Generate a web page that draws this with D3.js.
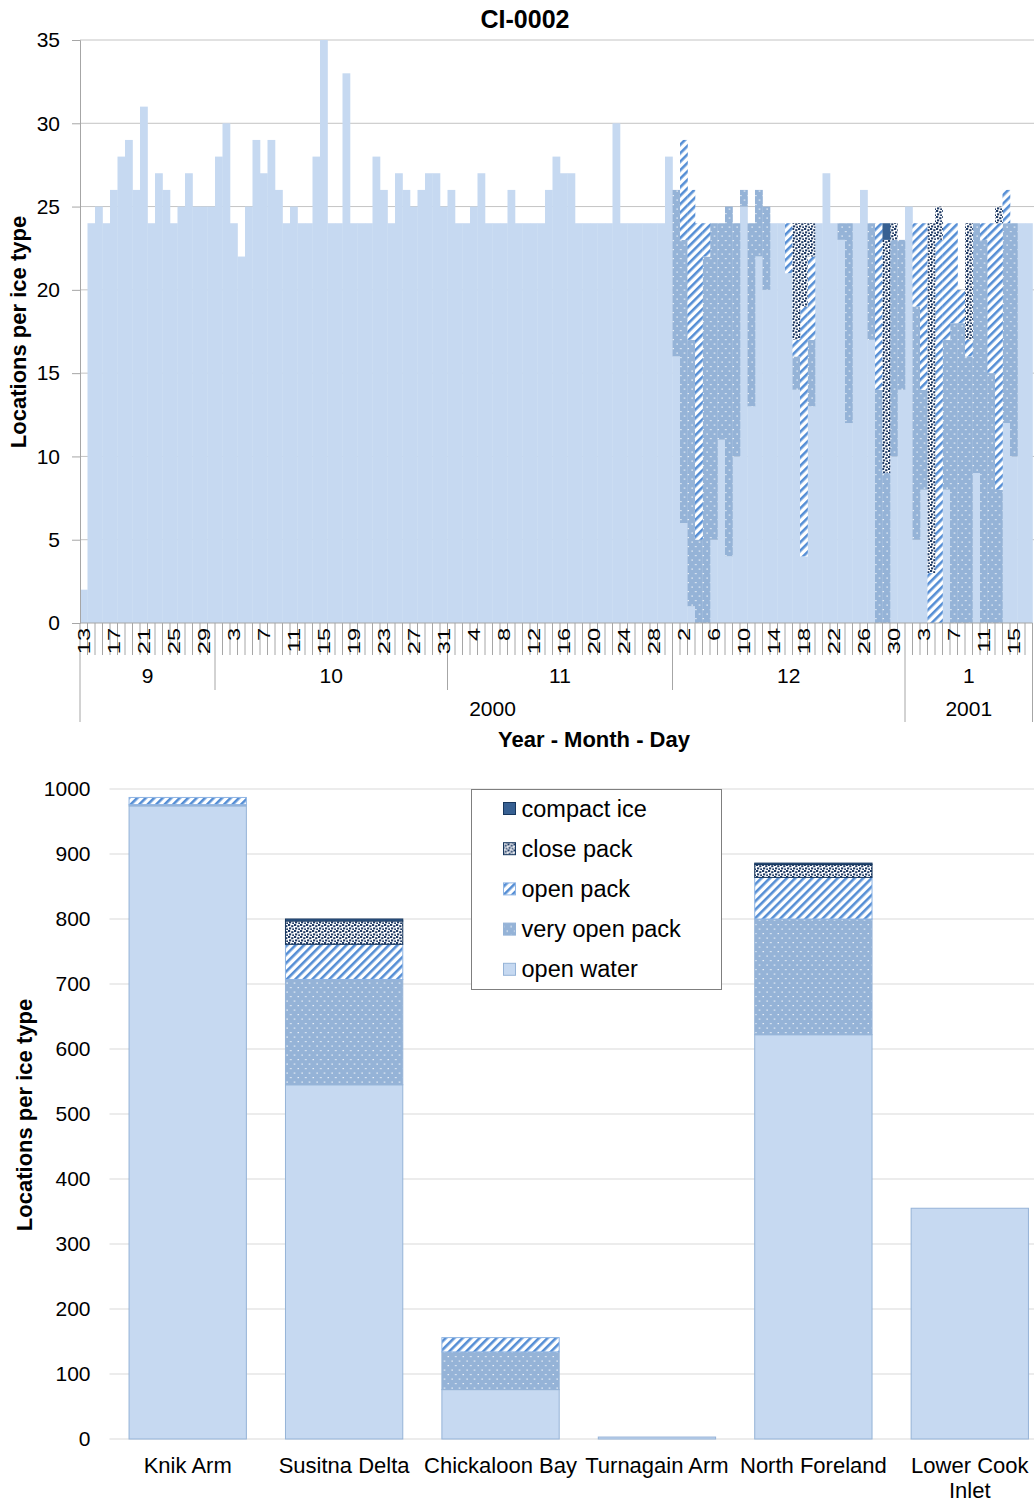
<!DOCTYPE html>
<html>
<head>
<meta charset="utf-8">
<script src="https://cdn.jsdelivr.net/npm/d3@7"></script>
<style>
  body { margin: 0; background: #fff; }
  text { font-family: "Liberation Sans", Arial, sans-serif; fill: #000; }
</style>
</head>
<body>
<svg id="chart" width="1034" height="1502"></svg>
<script>
// ---- daily chart data (Sep 13 2000 - Jan 17 2001) ----
const firstDay = new Date(2000, 8, 13);
const lastDay = new Date(2001, 0, 17);

const openWater = [
  // Sep
  2,24,25,24,26,28,29,26,31,24,27,26,24,25,27,25,25,25,
  // Oct
  28,30,24,22,25,29,27,29,26,24,25,24,24,28,35,24,24,33,24,24,24,28,26,24,27,26,25,26,27,27,25,
  // Nov
  26,24,24,25,27,24,24,24,26,24,24,24,24,26,28,27,27,24,24,24,24,24,30,24,24,24,24,24,24,28,
  // Dec
  16,6,1,0,0,5,11,4,10,25,13,22,20,24,24,21,14,4,13,24,27,24,23,12,24,26,17,0,0,10,14,
  // Jan
  25,5,8,0,0,8,0,0,0,9,0,0,0,12,10,24,24
];
const veryOpenPack = [
  0,0,0,0,0,0,0,0,0,0, 0,0,0,0,0,0,0,0,
  0,0,0,0,0,0,0,0,0,0, 0,0,0,0,0,0,0,0,0,0, 0,0,0,0,0,0,0,0,0,0, 0,
  0,0,0,0,0,0,0,0,0,0, 0,0,0,0,0,0,0,0,0,0, 0,0,0,0,0,0,0,0,0,0,
  10,17,16,5,22,19,13,21,14,1,11,4,5,0,0,0,2,0,4,0,0,0,1,12,0,0,7,14,9,13,9,
  0,14,6,0,0,9,18,18,16,15,23,15,8,12,14,0,0
];
const openPack = [
  0,0,0,0,0,0,0,0,0,0, 0,0,0,0,0,0,0,0,
  0,0,0,0,0,0,0,0,0,0, 0,0,0,0,0,0,0,0,0,0, 0,0,0,0,0,0,0,0,0,0, 0,
  0,0,0,0,0,0,0,0,0,0, 0,0,0,0,0,0,0,0,0,0, 0,0,0,0,0,0,0,0,0,0,
  0,6,9,19,2,0,0,0,0,0,0,0,0,0,0,3,1,15,5,0,0,0,0,0,0,0,0,10,0,0,0,
  0,5,10,3,23,7,6,2,1,0,1,9,16,2,0,0,0
];
const closePack = [
  0,0,0,0,0,0,0,0,0,0, 0,0,0,0,0,0,0,0,
  0,0,0,0,0,0,0,0,0,0, 0,0,0,0,0,0,0,0,0,0, 0,0,0,0,0,0,0,0,0,0, 0,
  0,0,0,0,0,0,0,0,0,0, 0,0,0,0,0,0,0,0,0,0, 0,0,0,0,0,0,0,0,0,0,
  0,0,0,0,0,0,0,0,0,0,0,0,0,0,0,0,7,5,2,0,0,0,0,0,0,0,0,0,14,1,0,
  0,0,0,21,2,0,0,0,7,0,0,0,1,0,0,0,0
];
const compactIce = [
  0,0,0,0,0,0,0,0,0,0, 0,0,0,0,0,0,0,0,
  0,0,0,0,0,0,0,0,0,0, 0,0,0,0,0,0,0,0,0,0, 0,0,0,0,0,0,0,0,0,0, 0,
  0,0,0,0,0,0,0,0,0,0, 0,0,0,0,0,0,0,0,0,0, 0,0,0,0,0,0,0,0,0,0,
  0,0,0,0,0,0,0,0,0,0,0,0,0,0,0,0,0,0,0,0,0,0,0,0,0,0,0,0,1,0,0,
  0,0,0,0,0,0,0,0,0,0,0,0,0,0,0,0,0
];
const dailyTicks = [0, 5, 10, 15, 20, 25, 30, 35];

// ---- region totals ----
const regions = ["Knik Arm", "Susitna Delta", "Chickaloon Bay", "Turnagain Arm", "North Foreland", "Lower Cook Inlet"];
const regionOpenWater = [974, 545, 76, 3, 622, 355];
const regionVeryOpenPack = [2, 162, 58, 0, 178, 0];
const regionOpenPack = [11, 54, 22, 0, 64, 0];
const regionClosePack = [0, 36, 0, 0, 20, 0];
const regionCompactIce = [0, 3, 0, 0, 2, 0];
const regionTicks = [0, 100, 200, 300, 400, 500, 600, 700, 800, 900, 1000];

const keys = ["openWater", "veryOpenPack", "openPack", "closePack", "compactIce"];
const keyLabels = {
  openWater: "open water", veryOpenPack: "very open pack", openPack: "open pack",
  closePack: "close pack", compactIce: "compact ice"
};
const fills = {
  openWater: "#c6d9f1", veryOpenPack: "url(#pVop)", openPack: "url(#pOp)",
  closePack: "url(#pCp)", compactIce: "#376092"
};
const strokes = {
  openWater: "#95b3d7", veryOpenPack: "#95b3d7", openPack: "#8eb4e3",
  closePack: "#17375e", compactIce: "#17375e"
};

const svg = d3.select("#chart");

// patterns
const defs = svg.append("defs");
const vop = defs.append("pattern").attr("id", "pVop").attr("patternUnits", "userSpaceOnUse")
  .attr("width", 7.5).attr("height", 9);
vop.append("rect").attr("width", 7.5).attr("height", 9).attr("fill", "#95b3d7");
vop.append("rect").attr("x", 1.5).attr("y", 1.5).attr("width", 1.2).attr("height", 1.2).attr("fill", "#fff");
vop.append("rect").attr("x", 5.2).attr("y", 6).attr("width", 1.2).attr("height", 1.2).attr("fill", "#fff");

const op = defs.append("pattern").attr("id", "pOp").attr("patternUnits", "userSpaceOnUse")
  .attr("width", 6).attr("height", 6).attr("patternTransform", "rotate(45)");
op.append("rect").attr("width", 6).attr("height", 6).attr("fill", "#fff");
op.append("rect").attr("width", 2.6).attr("height", 6).attr("fill", "#558ed5");

const cp = defs.append("pattern").attr("id", "pCp").attr("patternUnits", "userSpaceOnUse")
  .attr("width", 6).attr("height", 6);
cp.append("rect").attr("width", 6).attr("height", 6).attr("fill", "#fff");
[[0, 0], [3.2, 1.2], [1, 3.4], [4.2, 4.4]].forEach(([px, py]) => {
  cp.append("rect").attr("x", px).attr("y", py).attr("width", 2.2).attr("height", 2)
    .attr("fill", "#1f3a64");
});

// ================= daily chart =================
const days = d3.timeDay.range(firstDay, d3.timeDay.offset(lastDay, 1));
const dailyRows = days.map((d, i) => ({
  date: d, openWater: openWater[i], veryOpenPack: veryOpenPack[i],
  openPack: openPack[i], closePack: closePack[i], compactIce: compactIce[i]
}));

const dm = { left: 80, right: 1032.5, top: 40, bottom: 623 };
const x = d3.scaleBand().domain(d3.range(days.length)).range([dm.left, dm.right]).padding(0);
const y = d3.scaleLinear().domain([0, 35]).range([dm.bottom, dm.top]);

// gridlines
svg.append("g").selectAll("line").data(dailyTicks.filter(t => t > 0)).join("line")
  .attr("x1", dm.left).attr("x2", 1034)
  .attr("y1", d => y(d)).attr("y2", d => y(d))
  .attr("stroke", "#c4c4c4").attr("stroke-width", 1);

const dailyStack = d3.stack().keys(keys)(dailyRows);
svg.append("g").selectAll("g").data(dailyStack).join("g")
  .attr("fill", d => fills[d.key])
  .selectAll("rect").data(d => d).join("rect")
  .attr("x", (d, i) => x(i))
  .attr("width", x.bandwidth() + 0.3)
  .attr("y", d => y(d[1]))
  .attr("height", d => y(d[0]) - y(d[1]));

// y axis
const yAxis = svg.append("g").attr("transform", `translate(${dm.left},0)`)
  .call(d3.axisLeft(y).tickValues(dailyTicks).tickSize(8).tickPadding(12));
yAxis.select(".domain").attr("stroke", "#a6a6a6");
yAxis.selectAll(".tick line").attr("stroke", "#a6a6a6");
yAxis.selectAll(".tick text").attr("font-size", 21).attr("font-family", "Liberation Sans, Arial, sans-serif");

// x baseline and day ticks
const xb = d3.scaleLinear().domain([0, days.length]).range([dm.left, dm.right]);
svg.append("line").attr("x1", dm.left).attr("x2", dm.right)
  .attr("y1", dm.bottom).attr("y2", dm.bottom).attr("stroke", "#a6a6a6");
svg.append("g").selectAll("line").data(d3.range(days.length + 1)).join("line")
  .attr("x1", d => xb(d)).attr("x2", d => xb(d))
  .attr("y1", dm.bottom).attr("y2", 655)
  .attr("stroke", "#a6a6a6").attr("stroke-width", 1);

// day labels, every 4th day
svg.append("g").selectAll("text").data(d3.range(0, days.length, 4)).join("text")
  .attr("transform", i => `translate(${x(i) + x.bandwidth() / 2},628) rotate(-90) scale(1.12,0.82)`)
  .attr("text-anchor", "end")
  .attr("dominant-baseline", "central")
  .attr("font-size", 21)
  .text(i => days[i].getDate());

// months
const monthGroups = d3.groups(d3.range(days.length), i => +d3.timeMonth(days[i]));
monthGroups.forEach(([m, idx]) => {
  const x0 = xb(idx[0]), x1 = xb(idx[idx.length - 1] + 1);
  svg.append("text").attr("x", (x0 + x1) / 2).attr("y", 683)
    .attr("text-anchor", "middle").attr("font-size", 21)
    .text(days[idx[0]].getMonth() + 1);
});
// month / year separators
const yearGroups = d3.groups(d3.range(days.length), i => days[i].getFullYear());
const yearStarts = new Set(yearGroups.map(g => g[1][0]));
monthGroups.forEach(([m, idx]) => {
  const isYear = yearStarts.has(idx[0]);
  svg.append("line").attr("x1", xb(idx[0])).attr("x2", xb(idx[0]))
    .attr("y1", 655).attr("y2", isYear ? 722 : 690).attr("stroke", "#a6a6a6");
});
svg.append("line").attr("x1", xb(days.length)).attr("x2", xb(days.length))
  .attr("y1", 655).attr("y2", 722).attr("stroke", "#a6a6a6");
yearGroups.forEach(([year, idx]) => {
  const x0 = xb(idx[0]), x1 = xb(idx[idx.length - 1] + 1);
  svg.append("text").attr("x", (x0 + x1) / 2).attr("y", 716)
    .attr("text-anchor", "middle").attr("font-size", 21).text(year);
});

// titles
svg.append("text").attr("x", 525).attr("y", 28).attr("text-anchor", "middle")
  .attr("font-size", 25).attr("font-weight", "bold").text("CI-0002");
svg.append("text").attr("x", 594).attr("y", 747).attr("text-anchor", "middle")
  .attr("font-size", 22).attr("font-weight", "bold").text("Year - Month - Day");
svg.append("text").attr("transform", "translate(26,332) rotate(-90)")
  .attr("text-anchor", "middle").attr("font-size", 22).attr("font-weight", "bold")
  .text("Locations per ice type");

// ================= region chart =================
const regionRows = regions.map((r, i) => ({
  region: r, openWater: regionOpenWater[i], veryOpenPack: regionVeryOpenPack[i],
  openPack: regionOpenPack[i], closePack: regionClosePack[i], compactIce: regionCompactIce[i]
}));
const bm = { left: 109.5, right: 1048, top: 789, bottom: 1439 };
const xr = d3.scaleBand().domain(regions).range([bm.left, bm.right])
  .paddingInner(0.25).paddingOuter(0.125);
const yReg = d3.scaleLinear().domain([0, 1000]).range([bm.bottom, bm.top]);

svg.append("g").selectAll("line").data(regionTicks).join("line")
  .attr("x1", bm.left).attr("x2", 1034)
  .attr("y1", d => yReg(d)).attr("y2", d => yReg(d))
  .attr("stroke", "#d9d9d9").attr("stroke-width", 1.2);

const regionStack = d3.stack().keys(keys)(regionRows);
svg.append("g").selectAll("g").data(regionStack).join("g")
  .attr("fill", d => fills[d.key]).attr("stroke", d => strokes[d.key])
  .selectAll("rect").data(d => d.filter(v => v[1] > v[0])).join("rect")
  .attr("x", d => xr(d.data.region))
  .attr("width", xr.bandwidth())
  .attr("y", d => yReg(d[1]))
  .attr("height", d => yReg(d[0]) - yReg(d[1]))
  .attr("stroke-width", 1);

const yrAxis = svg.append("g").attr("transform", `translate(${bm.left},0)`)
  .call(d3.axisLeft(yReg).tickValues(regionTicks).tickFormat(d3.format("d"))
    .tickSize(0).tickPadding(19));
yrAxis.select(".domain").remove();
yrAxis.selectAll(".tick text").attr("font-size", 21).attr("font-family", "Liberation Sans, Arial, sans-serif");

// category labels (wrap only when clearly wider than the band step)
regions.forEach(r => {
  const t = svg.append("text").attr("x", xr(r) + xr.bandwidth() / 2).attr("y", 1473)
    .attr("text-anchor", "middle").attr("font-size", 22).text(r);
  if (t.node().getComputedTextLength() > xr.step() + 8) {
    const words = r.split(" ");
    const last = words.pop();
    t.text(words.join(" "));
    svg.append("text").attr("x", xr(r) + xr.bandwidth() / 2).attr("y", 1498)
      .attr("text-anchor", "middle").attr("font-size", 22).text(last);
  }
});

svg.append("text").attr("transform", "translate(32,1115) rotate(-90)")
  .attr("text-anchor", "middle").attr("font-size", 22).attr("font-weight", "bold")
  .text("Locations per ice type");

// legend
const legend = svg.append("g").attr("transform", "translate(471.5,789.5)");
legend.append("rect").attr("width", 250).attr("height", 200)
  .attr("fill", "#fff").attr("stroke", "#7f7f7f");
keys.slice().reverse().forEach((k, i) => {
  const cy = 19 + i * 40.2;
  legend.append("rect").attr("x", 32).attr("y", cy - 6).attr("width", 12).attr("height", 12)
    .attr("fill", fills[k]).attr("stroke", strokes[k]);
  legend.append("text").attr("x", 50).attr("y", cy).attr("dominant-baseline", "central")
    .attr("font-size", 23.5).text(keyLabels[k]);
});
</script>
</body>
</html>
